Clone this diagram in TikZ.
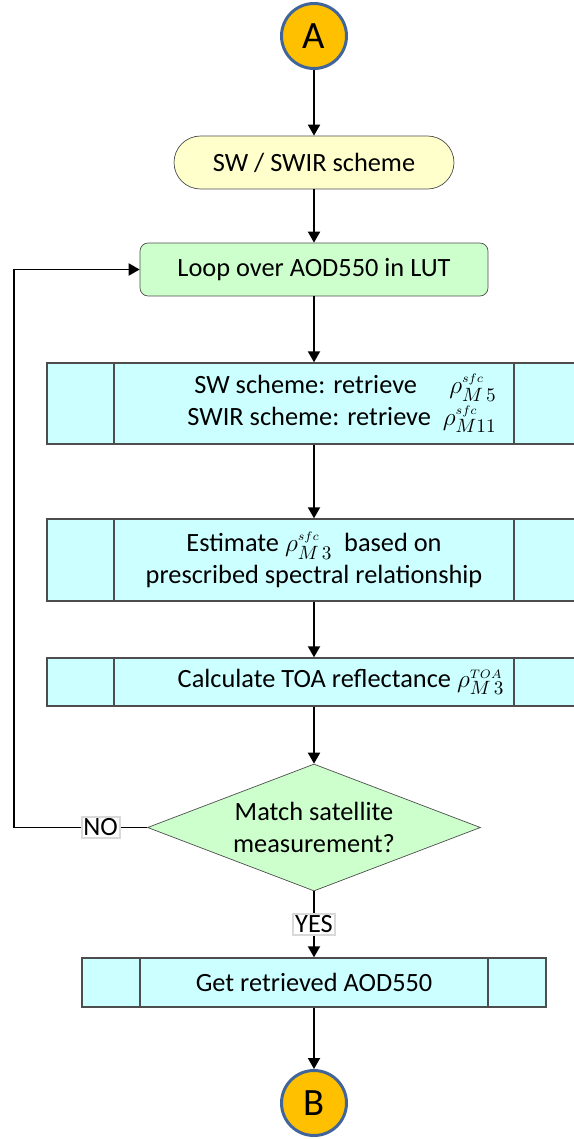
\documentclass[tikz,border=0pt]{standalone}
\usepackage{fontspec}
\setmainfont{Carlito}
\usetikzlibrary{shapes.geometric,arrows.meta}

\definecolor{ringblue}{HTML}{41659A}
\definecolor{connorange}{HTML}{FFC000}
\definecolor{termyellow}{HTML}{FFFFCC}
\definecolor{loopgreen}{HTML}{CCFFCC}
\definecolor{proccyan}{HTML}{CCFFFF}
\definecolor{edgegray}{HTML}{4D4D4D}

\tikzset{
	conn/.style={circle, draw=ringblue, line width=1.7pt, fill=connorange, minimum size=1.3cm, inner sep=0pt, font=\fontsize{22}{26}\selectfont},
	term/.style={rectangle, draw=edgegray, fill=termyellow, rounded corners=0.53cm, minimum width=5.6cm, minimum height=1.06cm, inner sep=0pt},
	loopbox/.style={rectangle, draw=edgegray, fill=loopgreen, rounded corners=0.16cm, minimum width=6.96cm, minimum height=1.06cm, inner sep=0pt},
	procbox/.style={rectangle, draw=edgegray, fill=proccyan, line width=0.8pt, minimum width=10.68cm, inner sep=0pt,
		path picture={
			\draw[edgegray, line width=0.8pt] ([xshift=#1]path picture bounding box.south west) -- ([xshift=#1]path picture bounding box.north west);
			\draw[edgegray, line width=0.8pt] ([xshift=-#1]path picture bounding box.south east) -- ([xshift=-#1]path picture bounding box.north east);
		}},
	procbox/.default=1.34cm,
	decide/.style={diamond, draw=edgegray, fill=loopgreen, shape aspect=2.6, minimum width=6.66cm, minimum height=2.54cm, inner sep=0pt, align=center},
	lbl/.style={fill=white, draw=black!15, inner sep=1pt},
	arr/.style={black, line width=1.1pt, -{Triangle[length=0.22cm,width=0.24cm]}}
}

\begin{document}
\begin{tikzpicture}[x=0.02cm, y=-0.02cm, font=\fontsize{15}{18}\selectfont]
	\useasboundingbox (0,0) rectangle (574,1139);
	\clip (0,0) rectangle (574,1139);

	\node[conn] (A) at (314,36) {A};
	\node[term] (sw) at (314,162.5) {SW / SWIR scheme};
	\node[loopbox] (loop) at (314,269.5) {Loop over AOD550 in LUT};

	\node[procbox, minimum height=1.62cm, align=right] (ret) at (314,403.5)
		{SW scheme: retrieve \quad$\rho^{\scriptscriptstyle sfc}_{M\,5}$\\ \hspace*{1.12cm}SWIR scheme: retrieve \ $\rho^{\scriptscriptstyle sfc}_{M11}$};
	\node[procbox, minimum height=1.64cm, align=center] (est) at (314,560)
		{Estimate $\rho^{\scriptscriptstyle sfc}_{M\,3}$ \ based on\\ prescribed spectral relationship};
	\node[procbox, minimum height=0.96cm] (toa) at (314,682)
		{\hspace*{1.08cm}Calculate TOA reflectance $\rho^{\scriptscriptstyle TOA}_{M\,3}$};

	\node[decide] (match) at (314,827.5) {Match satellite\\ measurement?};
	\node[procbox=1.16cm, minimum width=9.28cm, minimum height=0.98cm] (get) at (314,982.5) {Get retrieved AOD550};
	\node[conn] (B) at (314,1103) {B};

	\coordinate (back) at (14,0);

	\draw[arr] (A) -- (sw);
	\draw[arr] (sw) -- (loop);
	\draw[arr] (loop) -- (ret);
	\draw[arr] (ret) -- (est);
	\draw[arr] (est) -- (toa);
	\draw[arr] (toa) -- (match);
	\draw[arr] (match.west) -- node[lbl, pos=0.35] {NO} (back |- match.west) -- (back |- loop.west) -- (loop.west);
	\draw[arr] (match.south) -- node[lbl] {YES} (get.north);
	\draw[arr] (get) -- (B);
\end{tikzpicture}
\end{document}
